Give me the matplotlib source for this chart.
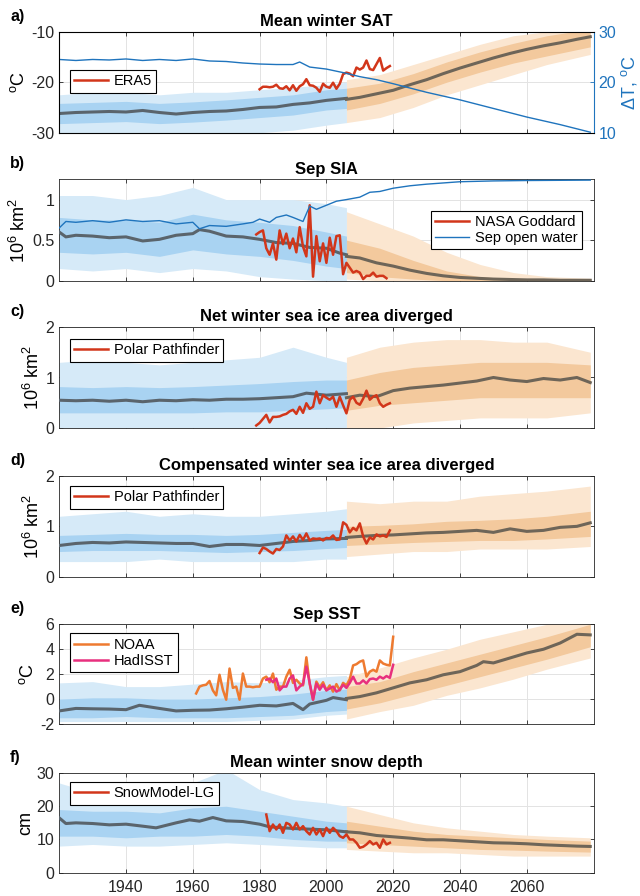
import matplotlib
matplotlib.use('Agg')
import matplotlib.pyplot as plt

plt.rcParams['font.family'] = ['Liberation Sans', 'DejaVu Sans']
plt.rcParams['mathtext.fontset'] = 'custom'
plt.rcParams['mathtext.rm'] = 'Liberation Sans'
plt.rcParams['mathtext.it'] = 'Liberation Sans:italic'
plt.rcParams['mathtext.bf'] = 'Liberation Sans:bold'

# ---- common years for the ensemble spread (hist / future) ----
env_hist_yr = [1920, 1930, 1940, 1950, 1960, 1970, 1980, 1990, 2000, 2006]
env_fut_yr = [2006, 2016, 2026, 2036, 2046, 2056, 2066, 2079]
mean_fut_yr = [2006, 2010, 2015, 2020, 2025, 2030, 2035, 2040, 2045, 2050,
               2055, 2060, 2065, 2070, 2075, 2079]

# ---- a) mean winter SAT ----
sat_hist_yr = [1920, 1925, 1930, 1935, 1940, 1945, 1950, 1955, 1960, 1965,
               1970, 1975, 1980, 1985, 1990, 1995, 2000, 2006]
sat_hist = [-26.2, -26.0, -25.9, -25.8, -25.9, -25.6, -26.0, -26.3, -26.0, -25.8,
            -25.7, -25.4, -25.0, -24.9, -24.4, -24.1, -23.6, -23.2]
sat_fut = [-23.4, -23.0, -22.3, -21.6, -20.5, -19.5, -18.3, -17.2, -16.2, -15.2,
           -14.3, -13.5, -12.8, -12.2, -11.5, -11.0]
sat_h_lo_o = [-30.5, -30.5, -30.5, -30.5, -30.5, -30.5, -30.0, -29.5, -28.5, -28.0]
sat_h_hi_o = [-22.5, -22.0, -22.0, -22.5, -22.0, -22.0, -21.5, -21.0, -20.5, -20.0]
sat_h_lo_i = [-28.2, -28.0, -27.8, -28.2, -27.9, -27.5, -27.0, -26.5, -25.5, -25.2]
sat_h_hi_i = [-24.2, -24.0, -23.8, -24.2, -23.9, -23.5, -23.0, -22.5, -21.5, -21.2]
sat_f_lo_o = [-28.0, -27.0, -25.0, -22.5, -20.5, -18.5, -16.5, -14.5]
sat_f_hi_o = [-19.5, -18.5, -16.5, -14.5, -12.5, -10.8, -10.0, -10.0]
sat_f_lo_i = [-25.5, -24.2, -22.3, -20.0, -18.0, -16.2, -14.8, -13.0]
sat_f_hi_i = [-21.2, -20.2, -18.3, -16.0, -14.0, -12.3, -10.8, -9.5]
era5_yr = list(range(1980, 2020))
era5 = [-21.4, -20.9, -20.9, -21.0, -20.9, -20.5, -21.2, -21.3, -20.8, -21.6,
        -20.6, -21.7, -20.8, -20.4, -19.4, -20.6, -20.7, -21.1, -21.9, -20.3,
        -20.9, -21.1, -20.1, -21.3, -20.3, -18.4, -18.1, -18.3, -18.8, -17.1,
        -17.5, -17.1, -15.7, -17.4, -17.6, -16.4, -15.2, -17.7, -17.2, -16.8]
dt_yr = [1920, 1925, 1930, 1935, 1940, 1945, 1950, 1955, 1960, 1965, 1970, 1975,
         1980, 1985, 1990, 1992, 1995, 2000, 2005, 2010, 2015, 2020, 2030, 2040,
         2050, 2060, 2070, 2079]
dt = [24.5, 24.3, 24.5, 24.4, 24.6, 24.3, 24.5, 24.3, 24.6, 24.2, 24.1, 23.8,
      23.6, 23.5, 23.5, 24.0, 23.0, 22.6, 21.9, 21.1, 20.5, 19.7, 18.0, 16.5,
      14.8, 13.1, 11.6, 10.1]

# ---- b) Sep SIA ----
sia_hist_yr = [1920, 1922, 1925, 1930, 1935, 1940, 1945, 1950, 1955, 1960, 1962,
               1965, 1970, 1975, 1980, 1985, 1990, 1995, 2000, 2004, 2006]
sia_hist = [0.60, 0.54, 0.56, 0.55, 0.53, 0.54, 0.49, 0.51, 0.56, 0.58, 0.63,
            0.61, 0.55, 0.54, 0.51, 0.47, 0.46, 0.41, 0.40, 0.34, 0.32]
sia_fut = [0.30, 0.28, 0.22, 0.18, 0.13, 0.09, 0.06, 0.04, 0.03, 0.02,
           0.015, 0.01, 0.01, 0.005, 0.005, 0.005]
sia_h_lo_o = [0.15, 0.12, 0.15, 0.10, 0.15, 0.12, 0.05, 0.02, 0.0, 0.0]
sia_h_hi_o = [1.05, 1.05, 1.0, 1.05, 1.15, 1.0, 1.0, 1.0, 0.95, 0.9]
sia_h_lo_i = [0.35, 0.33, 0.35, 0.30, 0.38, 0.33, 0.30, 0.25, 0.18, 0.15]
sia_h_hi_i = [0.78, 0.75, 0.75, 0.72, 0.82, 0.75, 0.72, 0.68, 0.60, 0.55]
sia_f_lo_o = [0.02, 0.0, 0.0, 0.0, 0.0, 0.0, 0.0, 0.0]
sia_f_hi_o = [0.85, 0.70, 0.55, 0.35, 0.20, 0.10, 0.05, 0.03]
sia_f_lo_i = [0.10, 0.05, 0.02, 0.0, 0.0, 0.0, 0.0, 0.0]
sia_f_hi_i = [0.50, 0.40, 0.25, 0.12, 0.05, 0.02, 0.01, 0.01]
nasa_yr = list(range(1979, 2019))
nasa = [0.57, 0.60, 0.62, 0.40, 0.32, 0.46, 0.26, 0.62, 0.45, 0.58,
        0.40, 0.52, 0.35, 0.66, 0.42, 0.30, 0.93, 0.05, 0.55, 0.24,
        0.46, 0.22, 0.53, 0.32, 0.55, 0.56, 0.08, 0.22, 0.16, 0.10,
        0.12, 0.10, 0.02, 0.06, 0.06, 0.10, 0.05, 0.06, 0.06, 0.03]
ow_yr = [1920, 1922, 1925, 1930, 1935, 1940, 1945, 1950, 1955, 1960, 1962, 1965,
         1970, 1975, 1978, 1980, 1983, 1985, 1988, 1990, 1993, 1995, 1997, 2000,
         2003, 2006, 2010, 2013, 2016, 2020, 2025, 2030, 2040, 2050, 2060, 2079]
ow = [0.65, 0.73, 0.72, 0.74, 0.72, 0.75, 0.73, 0.74, 0.70, 0.72, 0.64, 0.68,
      0.67, 0.70, 0.72, 0.76, 0.72, 0.78, 0.81, 0.78, 0.73, 0.92, 0.88, 0.93,
      0.98, 1.00, 1.03, 1.09, 1.10, 1.14, 1.17, 1.19, 1.22, 1.23, 1.235, 1.24]

# ---- c) net winter sea ice area diverged ----
net_hist_yr = [1920, 1925, 1930, 1935, 1940, 1945, 1950, 1955, 1960, 1965,
               1970, 1975, 1980, 1985, 1990, 1994, 2000, 2006]
net_hist = [0.55, 0.54, 0.55, 0.53, 0.55, 0.52, 0.55, 0.54, 0.56, 0.55,
            0.57, 0.57, 0.58, 0.60, 0.62, 0.69, 0.65, 0.68]
net_fut = [0.60, 0.65, 0.62, 0.74, 0.79, 0.82, 0.85, 0.89, 0.93, 1.00,
           0.95, 0.92, 0.98, 0.95, 1.00, 0.90]
net_h_lo_o = [0.0, 0.0, 0.0, 0.0, 0.0, 0.0, 0.0, 0.0, 0.0, 0.0]
net_h_hi_o = [1.30, 1.35, 1.30, 1.25, 1.30, 1.35, 1.40, 1.60, 1.40, 1.30]
net_h_lo_i = [0.30, 0.30, 0.30, 0.30, 0.30, 0.32, 0.32, 0.35, 0.38, 0.40]
net_h_hi_i = [0.82, 0.80, 0.82, 0.80, 0.82, 0.85, 0.88, 0.92, 0.95, 0.95]
net_f_lo_o = [0.0, 0.0, 0.10, 0.15, 0.20, 0.20, 0.20, 0.30]
net_f_hi_o = [1.40, 1.60, 1.70, 1.75, 1.75, 1.70, 1.70, 1.50]
net_f_lo_i = [0.35, 0.45, 0.50, 0.55, 0.60, 0.60, 0.60, 0.60]
net_f_hi_i = [0.95, 1.10, 1.20, 1.25, 1.30, 1.30, 1.30, 1.25]
pp_net_yr = list(range(1979, 2020))
pp_net = [0.05, 0.10, 0.18, 0.26, 0.11, 0.22, 0.22, 0.23, 0.26, 0.28,
          0.33, 0.36, 0.28, 0.42, 0.30, 0.49, 0.38, 0.42, 0.72, 0.49,
          0.65, 0.60, 0.56, 0.62, 0.42, 0.62, 0.45, 0.29, 0.56, 0.62,
          0.50, 0.46, 0.58, 0.74, 0.56, 0.62, 0.65, 0.49, 0.42, 0.46, 0.49]

# ---- d) compensated winter sea ice area diverged ----
comp_hist_yr = [1920, 1925, 1930, 1935, 1940, 1945, 1950, 1955, 1960, 1965,
                1970, 1975, 1980, 1985, 1990, 1995, 2000, 2006]
comp_hist = [0.62, 0.66, 0.68, 0.67, 0.69, 0.68, 0.67, 0.66, 0.66, 0.60,
             0.64, 0.64, 0.62, 0.66, 0.70, 0.72, 0.75, 0.76]
comp_fut = [0.78, 0.80, 0.82, 0.83, 0.85, 0.87, 0.88, 0.90, 0.92, 0.88,
            0.95, 0.90, 0.92, 0.98, 1.00, 1.07]
comp_h_lo_o = [0.30, 0.30, 0.30, 0.35, 0.30, 0.30, 0.30, 0.30, 0.35, 0.35]
comp_h_hi_o = [1.20, 1.25, 1.30, 1.20, 1.25, 1.20, 1.20, 1.25, 1.30, 1.35]
comp_h_lo_i = [0.50, 0.52, 0.52, 0.52, 0.50, 0.48, 0.50, 0.52, 0.56, 0.58]
comp_h_hi_i = [0.82, 0.84, 0.86, 0.84, 0.84, 0.82, 0.84, 0.88, 0.92, 0.94]
comp_f_lo_o = [0.40, 0.45, 0.50, 0.50, 0.55, 0.55, 0.55, 0.60]
comp_f_hi_o = [1.50, 1.45, 1.50, 1.50, 1.60, 1.65, 1.70, 1.80]
comp_f_lo_i = [0.62, 0.65, 0.68, 0.70, 0.72, 0.72, 0.75, 0.80]
comp_f_hi_i = [1.00, 1.02, 1.05, 1.10, 1.12, 1.15, 1.20, 1.30]
pp_comp_yr = list(range(1980, 2020))
pp_comp = [0.47, 0.58, 0.55, 0.50, 0.46, 0.55, 0.53, 0.60, 0.82, 0.72,
           0.80, 0.70, 0.83, 0.73, 0.86, 0.72, 0.76, 0.75, 0.76, 0.72,
           0.77, 0.76, 0.82, 0.73, 0.74, 1.08, 1.03, 0.88, 0.97, 0.92,
           1.06, 0.80, 0.66, 0.78, 0.74, 0.84, 0.80, 0.82, 0.79, 0.92]

# ---- e) Sep SST ----
sst_hist_yr = [1920, 1925, 1930, 1935, 1940, 1944, 1950, 1955, 1960, 1965,
               1970, 1975, 1980, 1985, 1990, 1993, 1995, 2000, 2002, 2006]
sst_hist = [-0.95, -0.75, -0.78, -0.80, -0.85, -0.50, -0.75, -0.95, -0.90, -0.88,
            -0.78, -0.65, -0.50, -0.55, -0.35, -0.85, -0.40, -0.10, 0.12, -0.05]
sst_fut_yr = [2006, 2010, 2015, 2020, 2025, 2030, 2035, 2040, 2045, 2047, 2050,
              2055, 2060, 2065, 2070, 2075, 2079]
sst_fut = [0.05, 0.20, 0.50, 0.90, 1.30, 1.55, 1.95, 2.20, 2.70, 3.00, 2.90,
           3.30, 3.70, 4.00, 4.50, 5.20, 5.15]
sst_h_lo_o = [-1.8, -1.8, -1.8, -1.8, -1.8, -1.8, -1.7, -1.6, -1.3, -1.2]
sst_h_hi_o = [1.3, 1.4, 1.0, 1.0, 1.2, 1.4, 1.3, 1.5, 1.8, 1.9]
sst_h_lo_i = [-1.5, -1.5, -1.4, -1.5, -1.5, -1.5, -1.4, -1.3, -1.0, -0.9]
sst_h_hi_i = [0.0, 0.1, 0.1, 0.0, 0.0, 0.1, 0.2, 0.4, 0.7, 0.8]
sst_f_lo_o = [-1.6, -1.0, -0.5, 0.3, 0.9, 1.6, 2.4, 3.3]
sst_f_hi_o = [1.8, 2.5, 3.3, 4.0, 4.8, 5.4, 6.0, 6.5]
sst_f_lo_i = [-0.8, -0.3, 0.4, 1.1, 1.8, 2.5, 3.2, 4.2]
sst_f_hi_i = [1.0, 1.4, 2.2, 2.9, 3.6, 4.3, 5.0, 6.0]
noaa_yr = list(range(1961, 2021))
noaa = [0.45, 1.00, 1.10, 1.15, 1.45, 0.70, 0.30, 1.95, 0.75, -0.05,
        2.45, 0.90, 1.00, -0.05, 2.05, 1.00, 1.00, 0.95, 1.00, 1.00,
        1.65, 1.80, 1.35, 2.05, 0.75, 1.00, 1.00, 1.80, 2.35, 1.30,
        1.55, 1.25, 1.10, 3.35, 1.20, -0.05, 1.40, 0.95, 1.35, 0.70,
        1.10, 0.60, 1.20, 0.70, 1.30, 1.10, 1.60, 2.70, 2.80, 3.00,
        3.10, 1.80, 2.20, 2.35, 2.20, 3.10, 2.85, 2.75, 2.70, 5.00]
had_yr = list(range(1982, 2021))
had = [1.55, 1.65, 1.35, 1.65, 0.70, 1.00, 1.00, 1.65, 1.90, 0.70,
       1.00, 1.20, 2.60, 1.30, -0.05, 1.25, 0.75, 1.15, 0.70, 0.85,
       1.00, 0.60, 0.75, 1.15, 0.90, 1.30, 1.80, 1.25, 1.25, 1.50,
       1.25, 1.60, 1.65, 1.55, 1.80, 1.65, 1.85, 1.70, 2.75]

# ---- f) mean winter snow depth ----
snow_hist_yr = [1920, 1922, 1925, 1930, 1935, 1940, 1945, 1949, 1955, 1959,
                1962, 1966, 1970, 1975, 1980, 1983, 1990, 1995, 2000, 2006]
snow_hist = [16.5, 14.8, 15.0, 14.8, 14.4, 14.6, 14.0, 13.5, 15.0, 15.9,
             15.5, 16.6, 15.6, 15.4, 14.6, 13.8, 13.3, 13.1, 12.9, 12.3]
snow_fut = [12.3, 12.0, 11.2, 10.8, 10.4, 9.9, 9.9, 9.6, 9.3, 9.0,
            8.9, 8.7, 8.4, 8.2, 8.0, 7.9]
snow_h_lo_o = [8.0, 8.5, 8.0, 8.0, 8.5, 9.0, 8.5, 8.0, 7.5, 7.5]
snow_h_hi_o = [27.0, 24.0, 25.0, 24.0, 27.0, 31.0, 25.0, 22.0, 21.0, 20.0]
snow_h_lo_i = [11.0, 11.0, 10.5, 11.0, 11.0, 11.5, 11.0, 10.0, 9.5, 9.5]
snow_h_hi_i = [19.0, 18.5, 18.5, 18.0, 19.5, 20.0, 18.5, 17.0, 15.5, 15.0]
snow_f_lo_o = [7.0, 6.5, 6.0, 6.0, 5.5, 5.0, 5.0, 5.0]
snow_f_hi_o = [20.0, 17.5, 15.0, 13.5, 12.5, 11.5, 11.0, 10.5]
snow_f_lo_i = [9.0, 8.5, 8.0, 7.5, 7.0, 6.8, 6.5, 6.2]
snow_f_hi_i = [15.5, 14.0, 12.5, 11.5, 11.0, 10.5, 10.0, 9.5]
smlg_yr = list(range(1982, 2020))
smlg = [17.5, 12.5, 14.5, 13.0, 14.5, 12.0, 15.0, 14.5, 13.0, 15.0,
        13.0, 14.0, 12.5, 11.5, 13.5, 11.5, 13.0, 11.0, 13.5, 12.0,
        13.5, 12.5, 11.0, 10.5, 11.5, 10.0, 10.0, 9.0, 7.5, 7.8,
        8.5, 9.5, 8.5, 9.0, 7.5, 10.0, 8.5, 9.0]

# colours
c_hist_o, c_hist_i = '#d6eaf8', '#a9d3f2'
c_fut_o, c_fut_i = '#fbe6d0', '#f3c99d'
c_mean_h, c_mean_f = '#5a646c', '#6e6558'
c_red = '#d2361a'
c_blue = '#1f74bd'

fig = plt.figure(figsize=(6.4, 8.96), dpi=100)

L, W = 59.2 / 640, 534.4 / 640
tops = [31.7, 179.3, 327.0, 476.0, 624.3, 773.0]
bots = [132.7, 280.7, 428.0, 576.7, 724.0, 872.7]
axes = []
for t, b in zip(tops, bots):
    axes.append(fig.add_axes([L, (896 - b) / 896, W, (b - t) / 896]))


def spread(ax, hlo_o, hhi_o, hlo_i, hhi_i, flo_o, fhi_o, flo_i, fhi_i):
    ax.fill_between(env_hist_yr, hlo_o, hhi_o, color=c_hist_o, lw=0, zorder=1)
    ax.fill_between(env_hist_yr, hlo_i, hhi_i, color=c_hist_i, lw=0, zorder=1.2)
    ax.fill_between(env_fut_yr, flo_o, fhi_o, color=c_fut_o, lw=0, zorder=1)
    ax.fill_between(env_fut_yr, flo_i, fhi_i, color=c_fut_i, lw=0, zorder=1.2)


def style(ax, title, label, ylim, yticks, yticklabels, ylabel, bottom=False):
    ax.set_xlim(1920, 2080)
    ax.set_ylim(*ylim)
    ax.set_xticks([1940, 1960, 1980, 2000, 2020, 2040, 2060])
    if not bottom:
        ax.set_xticklabels([])
    ax.set_yticks(yticks)
    ax.set_yticklabels(yticklabels)
    ax.grid(True, color='#e3e3e3', lw=0.7, zorder=0)
    ax.set_axisbelow(True)
    ax.tick_params(direction='in', length=3, width=0.6, labelsize=11.5,
                   top=True, right=True, colors='#262626')
    ax.tick_params(axis='x', pad=5)
    for s in ax.spines.values():
        s.set_color('#262626')
        s.set_linewidth(0.6)
    ax.set_title(title, fontsize=12, fontweight='bold', pad=4)
    ax.set_ylabel(ylabel, fontsize=13, labelpad=2)
    pos = ax.get_position()
    fig.text(0.016, pos.y1 + 0.0175, label, fontsize=11.5, fontweight='bold',
             va='center', ha='left')


def legend(ax, **kw):
    lg = ax.legend(fontsize=10.5, frameon=True, fancybox=False, framealpha=1,
                   edgecolor='black', borderaxespad=0, handlelength=2.3,
                   handletextpad=0.4, borderpad=0.3, labelspacing=0.15, **kw)
    lg.get_frame().set_linewidth(0.8)
    lg.set_zorder(10)


# a)
ax = axes[0]
spread(ax, sat_h_lo_o, sat_h_hi_o, sat_h_lo_i, sat_h_hi_i,
       sat_f_lo_o, sat_f_hi_o, sat_f_lo_i, sat_f_hi_i)
ax.plot(sat_hist_yr, sat_hist, color=c_mean_h, lw=2.2, zorder=3)
ax.plot(mean_fut_yr, sat_fut, color=c_mean_f, lw=2.2, zorder=3)
ax.plot(era5_yr, era5, color=c_red, lw=1.8, zorder=4, label='ERA5')
style(ax, 'Mean winter SAT', 'a)', (-30, -10), [-30, -20, -10],
      ['-30', '-20', '-10'], '$^\\mathrm{o}$C')
legend(ax, loc='center left', bbox_to_anchor=(0.02, 0.51))
ax2 = ax.twinx()
ax2.plot(dt_yr, dt, color=c_blue, lw=1.0)
ax2.set_ylim(10, 30)
ax2.set_yticks([10, 20, 30])
ax2.tick_params(direction='in', length=3, width=0.6, labelsize=11.5, colors=c_blue)
ax2.spines['right'].set_color(c_blue)
ax2.set_ylabel('$\\Delta$T, $^\\mathrm{o}$C', fontsize=13, color=c_blue, labelpad=2)

# b)
ax = axes[1]
spread(ax, sia_h_lo_o, sia_h_hi_o, sia_h_lo_i, sia_h_hi_i,
       sia_f_lo_o, sia_f_hi_o, sia_f_lo_i, sia_f_hi_i)
ax.plot(sia_hist_yr, sia_hist, color=c_mean_h, lw=2.2, zorder=3)
ax.plot(mean_fut_yr, sia_fut, color=c_mean_f, lw=2.2, zorder=3)
ax.plot(nasa_yr, nasa, color=c_red, lw=1.8, zorder=4, label='NASA Goddard')
ax.plot(ow_yr, ow, color=c_blue, lw=1.0, zorder=5, label='Sep open water')
style(ax, 'Sep SIA', 'b)', (0, 1.25), [0, 0.5, 1], ['0', '0.5', '1'],
      '10$^6$ km$^2$')
legend(ax, loc='center right', bbox_to_anchor=(0.978, 0.5))

# c)
ax = axes[2]
spread(ax, net_h_lo_o, net_h_hi_o, net_h_lo_i, net_h_hi_i,
       net_f_lo_o, net_f_hi_o, net_f_lo_i, net_f_hi_i)
ax.plot(net_hist_yr, net_hist, color=c_mean_h, lw=2.2, zorder=3)
ax.plot(mean_fut_yr, net_fut, color=c_mean_f, lw=2.2, zorder=3)
ax.plot(pp_net_yr, pp_net, color=c_red, lw=1.8, zorder=4, label='Polar Pathfinder')
style(ax, 'Net winter sea ice area diverged', 'c)', (0, 2), [0, 1, 2],
      ['0', '1', '2'], '10$^6$ km$^2$')
legend(ax, loc='upper left', bbox_to_anchor=(0.02, 0.88))

# d)
ax = axes[3]
spread(ax, comp_h_lo_o, comp_h_hi_o, comp_h_lo_i, comp_h_hi_i,
       comp_f_lo_o, comp_f_hi_o, comp_f_lo_i, comp_f_hi_i)
ax.plot(comp_hist_yr, comp_hist, color=c_mean_h, lw=2.2, zorder=3)
ax.plot(mean_fut_yr, comp_fut, color=c_mean_f, lw=2.2, zorder=3)
ax.plot(pp_comp_yr, pp_comp, color=c_red, lw=1.8, zorder=4, label='Polar Pathfinder')
style(ax, 'Compensated winter sea ice area diverged', 'd)', (0, 2), [0, 1, 2],
      ['0', '1', '2'], '10$^6$ km$^2$')
legend(ax, loc='upper left', bbox_to_anchor=(0.02, 0.9))

# e)
ax = axes[4]
spread(ax, sst_h_lo_o, sst_h_hi_o, sst_h_lo_i, sst_h_hi_i,
       sst_f_lo_o, sst_f_hi_o, sst_f_lo_i, sst_f_hi_i)
ax.plot(sst_hist_yr, sst_hist, color=c_mean_h, lw=2.2, zorder=3)
ax.plot(sst_fut_yr, sst_fut, color=c_mean_f, lw=2.2, zorder=3)
ax.plot(noaa_yr, noaa, color='#ee7a30', lw=1.8, zorder=4, label='NOAA')
ax.plot(had_yr, had, color='#e8307e', lw=1.8, zorder=4.5, label='HadISST')
style(ax, 'Sep SST', 'e)', (-2, 6), [-2, 0, 2, 4, 6],
      ['-2', '0', '2', '4', '6'], '$^\\mathrm{o}$C')
legend(ax, loc='upper left', bbox_to_anchor=(0.02, 0.91))

# f)
ax = axes[5]
spread(ax, snow_h_lo_o, snow_h_hi_o, snow_h_lo_i, snow_h_hi_i,
       snow_f_lo_o, snow_f_hi_o, snow_f_lo_i, snow_f_hi_i)
ax.plot(snow_hist_yr, snow_hist, color=c_mean_h, lw=2.2, zorder=3)
ax.plot(mean_fut_yr, snow_fut, color=c_mean_f, lw=2.2, zorder=3)
ax.plot(smlg_yr, smlg, color=c_red, lw=1.8, zorder=4, label='SnowModel-LG')
style(ax, 'Mean winter snow depth', 'f)', (0, 30), [0, 10, 20, 30],
      ['0', '10', '20', '30'], 'cm', bottom=True)
legend(ax, loc='upper left', bbox_to_anchor=(0.02, 0.91))

fig.savefig('out.png', dpi=100)
